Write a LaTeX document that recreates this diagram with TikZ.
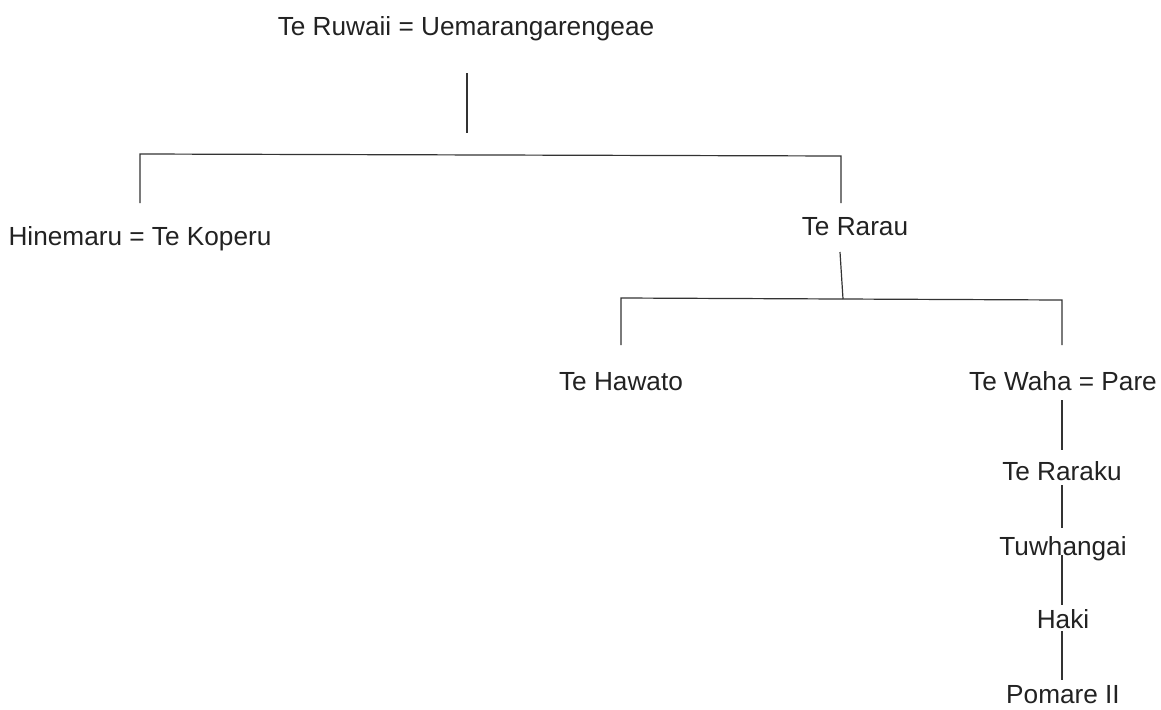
\documentclass[tikz,border=0pt]{standalone}
\usepackage{fontspec}
\setmainfont{Liberation Sans}
\definecolor{ink}{HTML}{222222}
\definecolor{wire}{HTML}{333333}
\begin{document}
\begin{tikzpicture}[x=1pt,y=-1pt,
  lbl/.style={anchor=base,inner sep=0pt,text=ink,font=\fontsize{26.2}{31}\selectfont},
  wireline/.style={draw=wire,line width=1.2pt}]
\useasboundingbox[fill=white] (0,0) rectangle (1161,709);
% people
\node[lbl] (ruwaii) at (466,36) {Te Ruwaii = Uemarangarengeae};
\node[lbl] (hinemaru) at (140,245) {Hinemaru = Te Koperu};
\node[lbl] (rarau) at (855,235) {Te Rarau};
\node[lbl] (hawato) at (621,390) {Te Hawato};
\node[lbl] (waha) at (1063,390) {Te Waha = Pare};
\node[lbl] (raraku) at (1062,480) {Te Raraku};
\node[lbl] (tuwhangai) at (1063,555) {Tuwhangai};
\node[lbl] (haki) at (1063,628) {Haki};
\node[lbl] (pomare) at (1063,703.5) {Pomare II};
% junction points
\coordinate (r0) at (467,73);
\coordinate (r1) at (467,133);
\coordinate (b0l) at (140,154);
\coordinate (b0r) at (841,156);
\coordinate (h0) at (140,203);
\coordinate (t0) at (841,203);
\coordinate (t1) at (840,252);
\coordinate (t2) at (843,299);
\coordinate (b1l) at (621,298);
\coordinate (b1r) at (1062,300);
\coordinate (w0) at (621,345);
\coordinate (w1) at (1062,345);
\coordinate (c0) at (1062,400);
\coordinate (c1) at (1062,450);
\coordinate (c2) at (1062,485);
\coordinate (c3) at (1062,528);
\coordinate (c4) at (1062,555);
\coordinate (c5) at (1062,605);
\coordinate (c6) at (1062,631);
\coordinate (c7) at (1062,680);
% connectors
\draw[wireline] (r0) -- (r1);
\draw[wireline] (h0) -- (b0l) -- (b0r) -- (t0);
\draw[wireline] (t1) -- (t2);
\draw[wireline] (w0) -- (b1l) -- (b1r) -- (w1);
\draw[wireline] (c0) -- (c1);
\draw[wireline] (c2) -- (c3);
\draw[wireline] (c4) -- (c5);
\draw[wireline] (c6) -- (c7);
\end{tikzpicture}
\end{document}
